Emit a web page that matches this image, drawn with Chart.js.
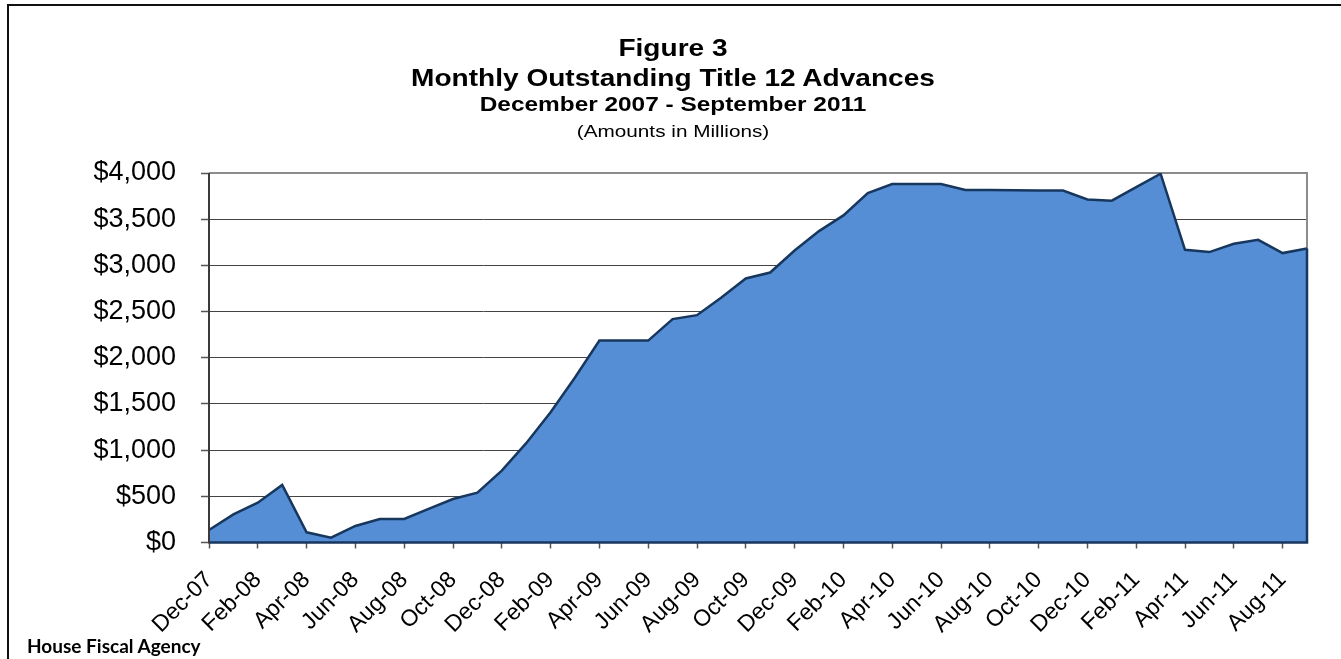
<!DOCTYPE html>
<html>
<head>
<meta charset="utf-8">
<script src="https://cdn.jsdelivr.net/npm/chart.js@4.4.1/dist/chart.umd.min.js"></script>
<style>
  body { margin: 0; background: #fff; }
  #wrap { position: relative; width: 1341px; height: 659px; overflow: hidden; }
  #frame { position: absolute; left: 7px; top: 4px; right: -10px; bottom: -10px; border-left: 2px solid #111; border-top: 2px solid #111; }
  .t { position: absolute; left: 0; width: 1346px; text-align: center; font-family: "Liberation Sans", Arial, sans-serif; line-height: 1; color: #000; white-space: nowrap; transform: scaleX(1.22); transform-origin: 673px 0; }
  #source { position: absolute; left: 27px; top: 636px; font-family: Lato, "Liberation Sans", sans-serif; font-weight: bold; font-size: 19px; line-height: 1; }
  canvas { position: absolute; left: 0; top: 0; }
</style>
</head>
<body>
<div id="wrap">
  <canvas id="advances" width="1341" height="659"></canvas>
  <div id="frame"></div>
  <div class="t" style="top:37px;font-size:23px;font-weight:bold;">Figure 3</div>
  <div class="t" style="top:67px;font-size:23px;font-weight:bold;">Monthly Outstanding Title 12 Advances</div>
  <div class="t" style="top:94px;font-size:20px;font-weight:bold;">December 2007 - September 2011</div>
  <div class="t" style="top:123px;font-size:17px;">(Amounts in Millions)</div>
  <div id="source">House Fiscal Agency</div>
</div>
<script>
// months Dec-07 .. Sep-11
const months = [
  "Dec-07",
  "Jan-08", "Feb-08", "Mar-08", "Apr-08", "May-08", "Jun-08", "Jul-08", "Aug-08", "Sep-08", "Oct-08", "Nov-08", "Dec-08",
  "Jan-09", "Feb-09", "Mar-09", "Apr-09", "May-09", "Jun-09", "Jul-09", "Aug-09", "Sep-09", "Oct-09", "Nov-09", "Dec-09",
  "Jan-10", "Feb-10", "Mar-10", "Apr-10", "May-10", "Jun-10", "Jul-10", "Aug-10", "Sep-10", "Oct-10", "Nov-10", "Dec-10",
  "Jan-11", "Feb-11", "Mar-11", "Apr-11", "May-11", "Jun-11", "Jul-11", "Aug-11", "Sep-11"
];

// outstanding advances, $ millions
const advances = [
  135,
  305, 431, 623, 110, 52, 179, 255, 255, 363, 471, 540, 778,
  1075, 1411, 1786, 2186, 2186, 2186, 2418, 2461, 2652, 2858, 2923, 3161,
  3371, 3541, 3783, 3881, 3881, 3881, 3816, 3816, 3813, 3810, 3810, 3714,
  3700, 3848, 3992, 3169, 3144, 3234, 3277, 3133, 3183
];

const yMax = 4000;
const yStep = 500;

const fillColor = "#558ED5";
const lineColor = "#17375E";

// plot frame, axis line and closing edges of the area
const plotFrame = {
  id: "plotFrame",
  beforeDatasetsDraw(chart) {
    const { ctx, chartArea: a } = chart;
    ctx.save();
    ctx.strokeStyle = "#8c8c8c";
    ctx.lineWidth = 2;
    ctx.beginPath();
    ctx.moveTo(a.left, a.top);
    ctx.lineTo(a.right, a.top);
    ctx.lineTo(a.right, a.bottom);
    ctx.stroke();
    ctx.restore();
  },
  afterDatasetsDraw(chart) {
    const { ctx, chartArea: a } = chart;
    const pts = chart.getDatasetMeta(0).data;
    const first = pts[0], last = pts[pts.length - 1];
    ctx.save();
    ctx.strokeStyle = lineColor;
    ctx.lineWidth = 2.5;
    ctx.beginPath();
    ctx.moveTo(last.x, last.y);
    ctx.lineTo(last.x, a.bottom);
    ctx.lineTo(first.x, a.bottom);
    ctx.stroke();
    ctx.strokeStyle = "#3a3a3a";
    ctx.lineWidth = 2;
    ctx.beginPath();
    ctx.moveTo(a.left, a.top);
    ctx.lineTo(a.left, a.bottom + 1);
    ctx.stroke();
    ctx.restore();
  }
};

new Chart("advances", {
  type: "line",
  data: {
    labels: months,
    datasets: [
      {
        label: "Outstanding Title 12 Advances",
        data: advances,
        fill: "origin",
        backgroundColor: fillColor,
        borderColor: lineColor,
        borderWidth: 2.5,
        pointRadius: 0,
        tension: 0,
      },
    ],
  },
  options: {
    responsive: false,
    animation: false,
    layout: {
      padding: { left: 0, right: 34, top: 173, bottom: 0 },
    },
    plugins: {
      legend: { display: false },
      tooltip: { enabled: false },
    },
    scales: {
      x: {
        offset: false,
        afterFit: (s) => {
          s.height = 659 - 542.5;
          s.paddingLeft = 0;
          s.paddingRight = 0;
        },
        border: { display: true, color: "#3a3a3a", width: 1 },
        grid: {
          drawOnChartArea: false,
          tickLength: 6,
          tickColor: (c) => (c.index % 2 === 0 ? "#555" : "rgba(0,0,0,0)"),
          tickWidth: 1.5,
        },
        ticks: {
          autoSkip: false,
          minRotation: 45,
          maxRotation: 45,
          padding: 18,
          color: "#000",
          font: { family: "'Liberation Sans', Arial, sans-serif", size: 23 },
          callback: (v, i) => (i % 2 === 0 ? months[i] : ""),
        },
      },
      y: {
        min: 0,
        max: yMax,
        afterFit: (s) => { s.width = 209; },
        border: { display: false },
        grid: {
          color: "#444",
          lineWidth: 1,
          borderDash: [1, 1],
          tickLength: 8,
          tickColor: "#555",
          tickWidth: 1.5,
          tickBorderDash: [],
        },
        ticks: {
          stepSize: yStep,
          padding: 25,
          color: "#000",
          font: { family: "'Liberation Sans', Arial, sans-serif", size: 27 },
          callback: (v) => "$" + v.toLocaleString("en-US"),
        },
      },
    },
  },
  plugins: [plotFrame],
});
</script>
</body>
</html>
